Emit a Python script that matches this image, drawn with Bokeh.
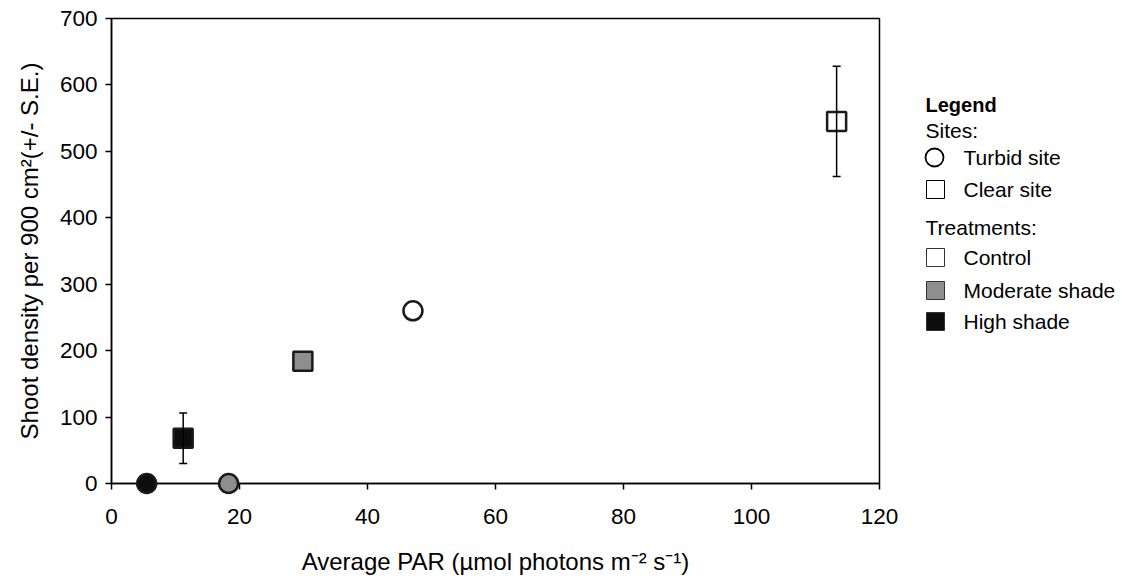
from bokeh.plotting import figure
from bokeh.models import Range1d, ColumnDataSource, Whisker, FixedTicker, TeeHead
from bokeh.layouts import row
from bokeh.embed import file_html
from bokeh.resources import INLINE
from bokeh.core.properties import value

# ---------------- data ----------------
site_names = ["Turbid site", "Clear site"]
site_markers = ["circle", "square"]
treatment_names = ["Control", "Moderate shade", "High shade"]
treatment_colors = ["#ffffff", "#8e8e8e", "#0d0d0d"]

# order of values: Control, Moderate shade, High shade
turbid_par = [47.1, 18.3, 5.5]
turbid_density = [260, 0, 0]
turbid_se = [0, 0, 0]

clear_par = [113.3, 29.9, 11.2]
clear_density = [545, 184, 68]
clear_se = [83, 0, 38]

x_ticks = [0, 20, 40, 60, 80, 100, 120]
y_ticks = [0, 100, 200, 300, 400, 500, 600, 700]

x_title = "Average PAR (\u00b5mol photons m\u207b\u00b2 s\u207b\u00b9)"
y_title = "Shoot density per 900 cm\u00b2(+/- S.E.)"

FONT = "Liberation Sans"
W, H = 908, 581
TOP, BOTTOM = 18, 98

# ---------------- main plot ----------------
p = figure(width=W, height=H, output_backend="svg", toolbar_location=None,
           x_range=Range1d(x_ticks[0], x_ticks[-1]), y_range=Range1d(y_ticks[0], y_ticks[-1]),
           min_border_left=111, min_border_right=29, min_border_top=TOP, min_border_bottom=BOTTOM)
p.grid.visible = False
p.outline_line_color = "black"
p.outline_line_width = 1.5
p.background_fill_color = "white"
p.border_fill_color = "white"

for ax, ticks in ((p.xaxis, x_ticks), (p.yaxis, y_ticks)):
    ax.ticker = FixedTicker(ticks=ticks, minor_ticks=[])
    ax.axis_line_color = "black"
    ax.axis_line_width = 1.5
    ax.major_tick_line_color = "black"
    ax.major_tick_line_width = 1.5
    ax.major_tick_out = 6
    ax.major_tick_in = 0
    ax.minor_tick_line_color = None
    ax.major_label_text_font = FONT
    ax.major_label_text_font_size = "22.5px"
    ax.major_label_text_color = "black"
    ax.axis_label_text_font = FONT
    ax.axis_label_text_font_size = "24px"
    ax.axis_label_text_font_style = "normal"
    ax.axis_label_text_color = "black"

p.xaxis.axis_label = x_title
p.yaxis.axis_label = y_title
p.xaxis.major_label_standoff = 19
p.xaxis.axis_label_standoff = 21
p.yaxis.major_label_standoff = 8
p.yaxis.axis_label_standoff = 14

# error bars
for par, dens, se in ((turbid_par, turbid_density, turbid_se), (clear_par, clear_density, clear_se)):
    xs = [x for x, s in zip(par, se) if s > 0]
    up = [d + s for d, s in zip(dens, se) if s > 0]
    lo = [d - s for d, s in zip(dens, se) if s > 0]
    if xs:
        src = ColumnDataSource(dict(x=xs, upper=up, lower=lo))
        w = Whisker(source=src, base="x", upper="upper", lower="lower", dimension="height",
                    line_color="black", line_width=1.5, level="overlay",
                    upper_head=TeeHead(size=8, line_width=1.5, line_color="black"),
                    lower_head=TeeHead(size=8, line_width=1.5, line_color="black"))
        p.add_layout(w)

# markers
for marker, par, dens in ((site_markers[0], turbid_par, turbid_density),
                          (site_markers[1], clear_par, clear_density)):
    src = ColumnDataSource(dict(x=par, y=dens, c=treatment_colors))
    r = p.scatter(x="x", y="y", source=src, marker=marker, size=19,
                  fill_color="c", line_color="#1a1a1a", line_width=2.5)
    r.level = "overlay"

# ---------------- legend panel ----------------
# frames in a row are aligned, so the legend panel uses the same top/bottom borders
# and a pixel-like y range (top of frame = TOP, bottom = H - BOTTOM)
LW = 212
lg = figure(width=LW, height=H, output_backend="svg", toolbar_location=None,
            x_axis_location=None, y_axis_location=None,
            x_range=Range1d(0, LW), y_range=Range1d(H - BOTTOM, TOP),
            min_border_left=0, min_border_right=0, min_border_top=TOP, min_border_bottom=BOTTOM)
lg.grid.visible = False
lg.outline_line_color = None
lg.background_fill_color = "white"
lg.border_fill_color = "white"

hx, mx, tx = 17, 27, 55
row_y = dict(title=104, sites=130, s0=157, s1=189, treat=227, t0=257, t1=290, t2=321)

lg.text(x=[hx], y=[row_y["title"]], text=["Legend"], text_font=value(FONT), text_font_size="20px",
        text_font_style="bold", text_baseline="middle", text_color="black")
lg.text(x=[hx, hx], y=[row_y["sites"], row_y["treat"]], text=["Sites:", "Treatments:"],
        text_font=value(FONT), text_font_size="21px", text_baseline="middle", text_color="black")

lg.scatter(x=[mx - 1, mx], y=[row_y["s0"], row_y["s1"]], marker=site_markers, size=18,
           fill_color="white", line_color="black", line_width=[1.8, 1.0])
lg.text(x=[tx, tx], y=[row_y["s0"], row_y["s1"]], text=site_names, text_font=value(FONT),
        text_font_size="21px", text_baseline="middle", text_color="black")

lg.scatter(x=[mx] * 3, y=[row_y["t0"], row_y["t1"], row_y["t2"]], marker="square", size=18,
           fill_color=treatment_colors, line_color="#333333", line_width=1.0)
lg.text(x=[tx] * 3, y=[row_y["t0"], row_y["t1"], row_y["t2"]], text=treatment_names,
        text_font=value(FONT), text_font_size="21px", text_baseline="middle", text_color="black")

layout = row(p, lg)
open("out.html", "w").write(file_html(layout, INLINE))
